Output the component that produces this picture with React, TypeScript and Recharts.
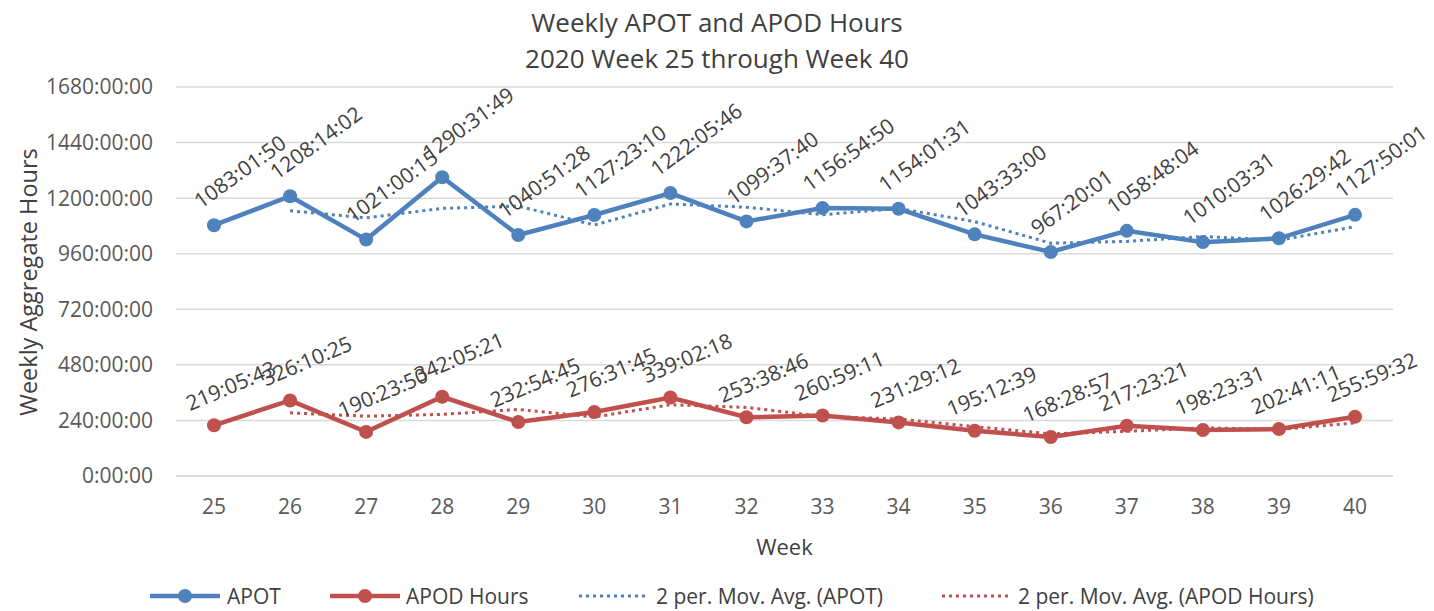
import React from 'react';
import { LineChart, Line, XAxis, YAxis, CartesianGrid, LabelList } from 'recharts';

const weeks = ['25', '26', '27', '28', '29', '30', '31', '32', '33', '34', '35', '36', '37', '38', '39', '40'];

const apotTimes = [
  '1083:01:50', '1208:14:02', '1021:00:15', '1290:31:49', '1040:51:28', '1127:23:10', '1222:05:46', '1099:37:40',
  '1156:54:50', '1154:01:31', '1043:33:00', '967:20:01', '1058:48:04', '1010:03:31', '1026:29:42', '1127:50:01',
];

const apodTimes = [
  '219:05:43', '326:10:25', '190:23:50', '342:05:21', '232:54:45', '276:31:45', '339:02:18', '253:38:46',
  '260:59:11', '231:29:12', '195:12:39', '168:28:57', '217:23:21', '198:23:31', '202:41:11', '255:59:32',
];

const apotMovAvg = [
  null, 1145.63, 1114.62, 1155.77, 1165.7, 1084.13, 1174.75, 1160.87,
  1128.27, 1155.47, 1098.79, 1005.44, 1013.07, 1034.43, 1018.28, 1077.17,
];

const apodMovAvg = [
  null, 272.64, 258.29, 266.25, 287.5, 254.72, 307.79, 296.35,
  257.32, 246.24, 213.35, 181.85, 192.94, 207.89, 200.54, 229.34,
];

const yTicks = [0, 240, 480, 720, 960, 1200, 1440, 1680];

const toHours = (s: string) => {
  const [h, m, sec] = s.split(':').map(Number);
  return h + m / 60 + sec / 3600;
};

const data = weeks.map((w, i) => ({
  week: w,
  apot: toHours(apotTimes[i]),
  apod: toHours(apodTimes[i]),
  apotLabel: apotTimes[i],
  apodLabel: apodTimes[i],
  apotMA: apotMovAvg[i],
  apodMA: apodMovAvg[i],
}));

const FONT = '"Open Sans", "Noto Sans", sans-serif';
const BLUE = '#4F81BD';
const RED = '#C0504D';
const TEXT = '#404040';
const TICK = '#595959';

const makeLabel = (dx: number, dy: number, angle: number) => (props: any) => {
  const { x, y, value } = props;
  if (x == null || y == null) return null;
  const lx = x + dx;
  const ly = y + dy;
  return (
    <text
      x={lx}
      y={ly}
      transform={`rotate(${angle}, ${lx}, ${ly})`}
      fontSize={21}
      fill={TEXT}
      fontFamily={FONT}
      textAnchor="start"
    >
      {value}
    </text>
  );
};

const apotLabelRenderer = makeLabel(-13, -16, -36);
const apodLabelRenderer = makeLabel(-24, -14, -23);

const yFmt = (v: number) => `${v}:00:00`;

const LegendItem = ({ color, dotted, label, lineLeft, textLeft }: any) => (
  <>
    <svg style={{ position: 'absolute', left: lineLeft, top: 586 }} width={72} height={20}>
      {dotted ? (
        <line x1={2} y1={10} x2={68} y2={10} stroke={color} strokeWidth={3} strokeDasharray="3 4" />
      ) : (
        <>
          <line x1={0} y1={10} x2={70} y2={10} stroke={color} strokeWidth={4.5} />
          <circle cx={35} cy={10} r={7} fill={color} />
        </>
      )}
    </svg>
    <div
      style={{
        position: 'absolute',
        left: textLeft,
        top: 581,
        fontSize: 21,
        fontFamily: FONT,
        color: TEXT,
        whiteSpace: 'nowrap',
        lineHeight: '30px',
      }}
    >
      {label}
    </div>
  </>
);

export default function App() {
  return (
    <div style={{ position: 'absolute', left: 0, top: 0, width: 1434, height: 611, background: '#fff', overflow: 'hidden' }}>
      <div
        style={{
          position: 'absolute',
          left: 0,
          width: 1434,
          top: 4,
          textAlign: 'center',
          fontSize: 26,
          fontFamily: FONT,
          color: TEXT,
          lineHeight: '36px',
        }}
      >
        <div>Weekly APOT and APOD Hours</div>
        <div>2020 Week 25 through Week 40</div>
      </div>
      <LineChart
        width={1434}
        height={611}
        data={data}
        margin={{ top: 87, right: 41, bottom: 105, left: 0 }}
      >
        <CartesianGrid vertical={false} stroke="#D9D9D9" strokeWidth={1.5} />
        <XAxis
          dataKey="week"
          interval={0}
          padding={{ left: 38, right: 38 }}
          axisLine={{ stroke: '#D9D9D9', strokeWidth: 1.5 }}
          tickLine={false}
          tickMargin={17}
          height={30}
          tick={{ fontSize: 21, fill: TICK, fontFamily: FONT }}
        />
        <YAxis
          width={176}
          domain={[0, 1680]}
          ticks={yTicks}
          tickFormatter={yFmt}
          axisLine={false}
          tickLine={false}
          tickMargin={17}
          tick={{ fontSize: 21, fill: TICK, fontFamily: FONT }}
        />
        <Line
          dataKey="apot"
          stroke={BLUE}
          strokeWidth={4.5}
          dot={{ r: 7, fill: BLUE, stroke: BLUE, strokeWidth: 0 }}
          activeDot={false}
          isAnimationActive={false}
        >
          <LabelList dataKey="apotLabel" content={apotLabelRenderer} />
        </Line>
        <Line
          dataKey="apod"
          stroke={RED}
          strokeWidth={4.5}
          dot={{ r: 7, fill: RED, stroke: RED, strokeWidth: 0 }}
          activeDot={false}
          isAnimationActive={false}
        >
          <LabelList dataKey="apodLabel" content={apodLabelRenderer} />
        </Line>
        <Line
          dataKey="apotMA"
          stroke={BLUE}
          strokeWidth={3}
          strokeDasharray="3 4"
          dot={false}
          activeDot={false}
          isAnimationActive={false}
        />
        <Line
          dataKey="apodMA"
          stroke={RED}
          strokeWidth={3}
          strokeDasharray="3 4"
          dot={false}
          activeDot={false}
          isAnimationActive={false}
        />
      </LineChart>
      <div
        style={{
          position: 'absolute',
          left: 176,
          width: 1217,
          top: 530,
          textAlign: 'center',
          fontSize: 22,
          fontFamily: FONT,
          color: TEXT,
          lineHeight: '32px',
        }}
      >
        Week
      </div>
      <div
        style={{
          position: 'absolute',
          left: 28,
          top: 282,
          transform: 'translate(-50%, -50%) rotate(-90deg)',
          fontSize: 23.5,
          fontFamily: FONT,
          color: TEXT,
          whiteSpace: 'nowrap',
          lineHeight: '30px',
        }}
      >
        Weekly Aggregate Hours
      </div>
      <LegendItem color={BLUE} label="APOT" lineLeft={150} textLeft={227} />
      <LegendItem color={RED} label="APOD Hours" lineLeft={330} textLeft={406} />
      <LegendItem color={BLUE} dotted label="2 per. Mov. Avg. (APOT)" lineLeft={577} textLeft={656} />
      <LegendItem color={RED} dotted label="2 per. Mov. Avg. (APOD Hours)" lineLeft={940} textLeft={1018} />
    </div>
  );
}
